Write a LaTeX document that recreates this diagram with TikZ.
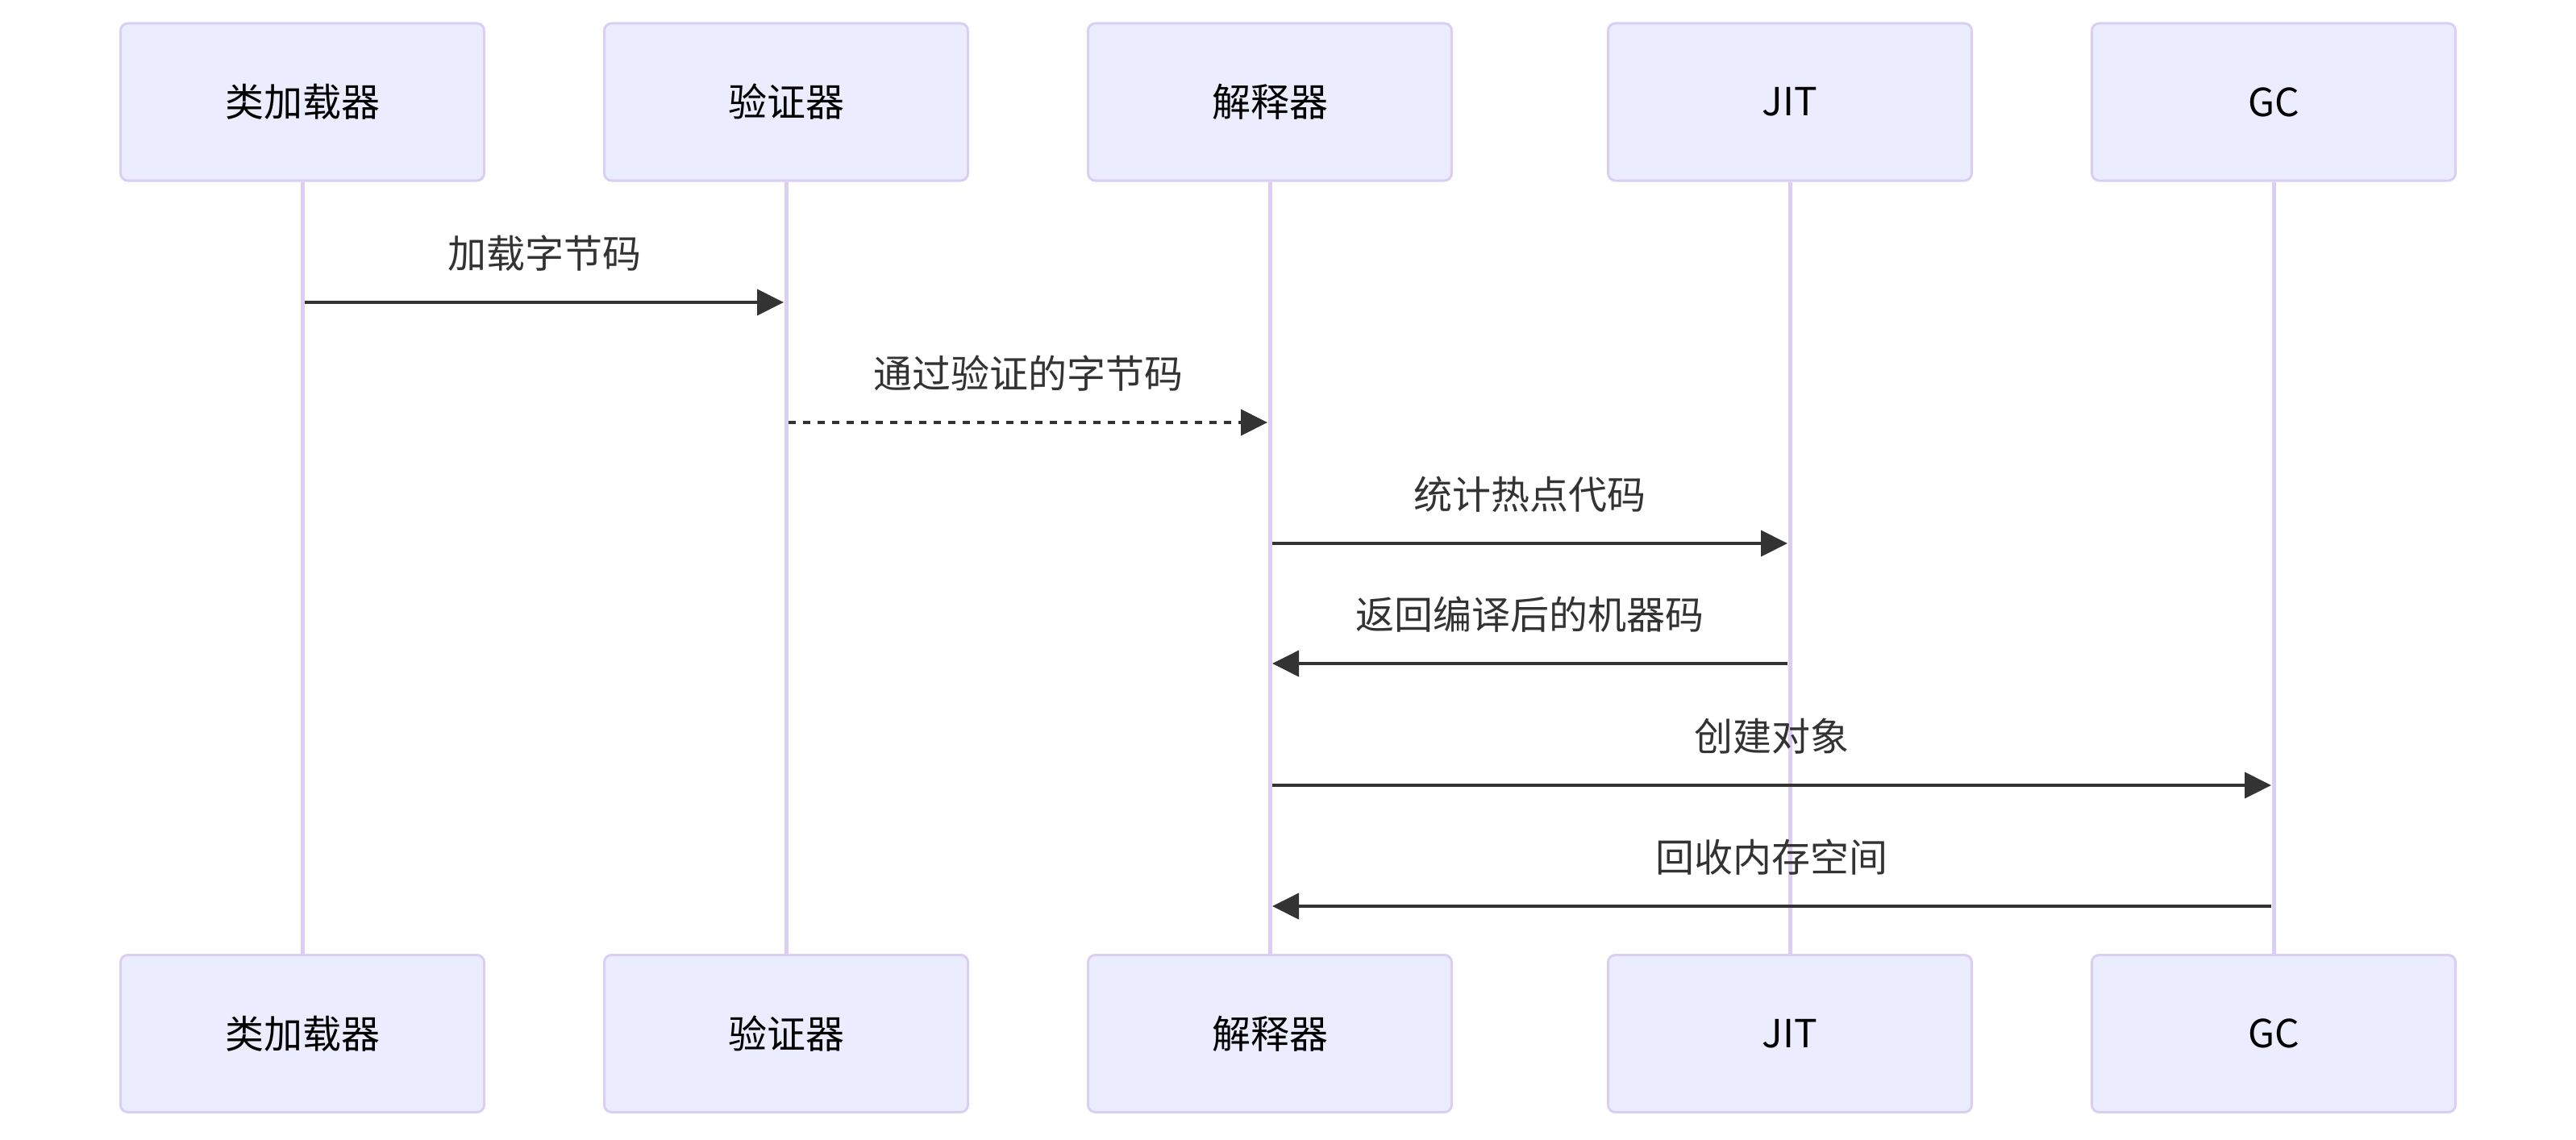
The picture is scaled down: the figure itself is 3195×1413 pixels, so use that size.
\documentclass[tikz,border=0pt]{standalone}
\usepackage{fontspec}
\setmainfont{Noto Sans}
\newfontfamily\cjk{Noto Sans CJK SC}
\usetikzlibrary{arrows.meta}
\definecolor{actfill}{HTML}{ECECFF}
\definecolor{actborder}{HTML}{DACEF3}
\definecolor{msgcol}{HTML}{333333}
\tikzset{
  actor/.style={draw=actborder, fill=actfill, line width=3pt, rounded corners=9pt,
    minimum width=451pt, minimum height=195pt, inner sep=0pt, text=black,
    font=\fontsize{48pt}{58pt}\selectfont\cjk},
  lifeline/.style={draw=actborder, line width=5pt},
  msgarrow/.style={draw=msgcol, line width=4pt, shorten <=3pt, shorten >=3pt,
    -{Triangle[length=33pt,width=32pt]}},
  msgdash/.style={msgarrow, dash pattern=on 9pt off 9pt},
  msglabel/.style={midway, yshift=61pt, text=msgcol, inner sep=0pt,
    font=\fontsize{48pt}{58pt}\selectfont\cjk}
}
\begin{document}
\begin{tikzpicture}[x=1pt,y=-1pt]
\useasboundingbox (0,0) rectangle (3195,1413);
% top actors
\node[actor] (t1) at (375,126.5) {类加载器};
\node[actor] (t2) at (975,126.5) {验证器};
\node[actor] (t3) at (1575,126.5) {解释器};
\node[actor] (t4) at (2220,126.5) {JIT};
\node[actor] (t5) at (2820,126.5) {GC};
% bottom actors
\node[actor] (b1) at (375,1282) {类加载器};
\node[actor] (b2) at (975,1282) {验证器};
\node[actor] (b3) at (1575,1282) {解释器};
\node[actor] (b4) at (2220,1282) {JIT};
\node[actor] (b5) at (2820,1282) {GC};
% lifelines
\foreach \i in {1,...,5} \draw[lifeline] (t\i.south) -- (b\i.north);
% message levels
\coordinate (y1) at (0,375);
\coordinate (y2) at (0,524);
\coordinate (y3) at (0,674);
\coordinate (y4) at (0,823);
\coordinate (y5) at (0,974);
\coordinate (y6) at (0,1124);
% messages
\draw[msgarrow] (t1.south |- y1) -- node[msglabel] {加载字节码} (t2.south |- y1);
\draw[msgdash] (t2.south |- y2) -- node[msglabel] {通过验证的字节码} (t3.south |- y2);
\draw[msgarrow] (t3.south |- y3) -- node[msglabel] {统计热点代码} (t4.south |- y3);
\draw[msgarrow] (t4.south |- y4) -- node[msglabel] {返回编译后的机器码} (t3.south |- y4);
\draw[msgarrow] (t3.south |- y5) -- node[msglabel] {创建对象} (t5.south |- y5);
\draw[msgarrow] (t5.south |- y6) -- node[msglabel] {回收内存空间} (t3.south |- y6);
\end{tikzpicture}
\end{document}
